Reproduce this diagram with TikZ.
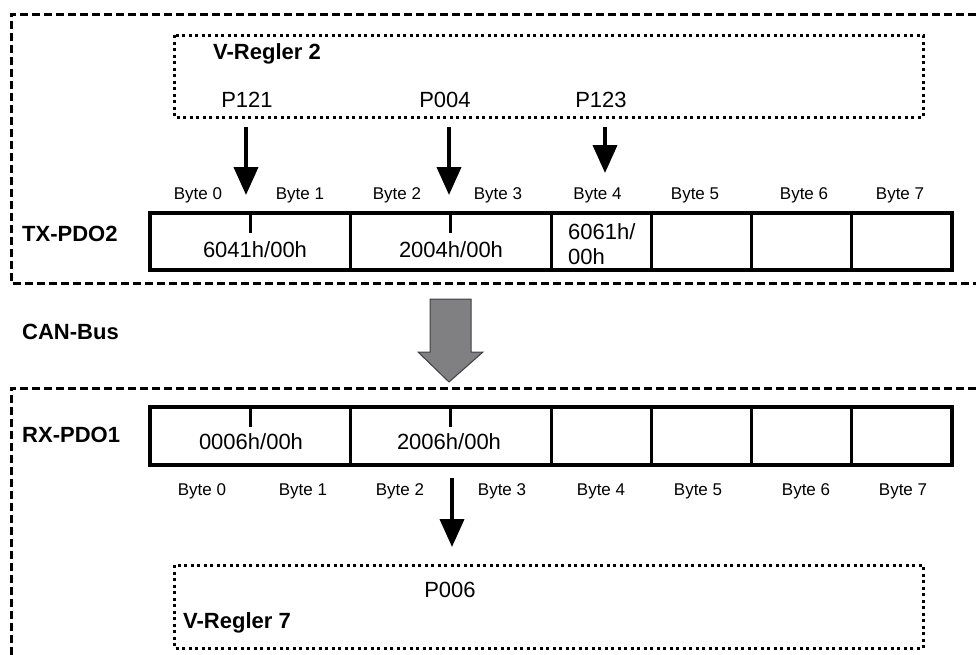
\documentclass[tikz,border=0pt]{standalone}
\usepackage{fontspec}
\setmainfont{Liberation Sans}
\usetikzlibrary{arrows.meta}
\begin{document}
\begin{tikzpicture}[x=1pt,y=-1pt,
  big/.style={font=\fontsize{22}{24}\selectfont, inner sep=0pt, anchor=base},
  bigw/.style={font=\fontsize{22}{24}\selectfont, inner sep=0pt, anchor=base west},
  bigb/.style={font=\fontsize{22}{24}\selectfont\bfseries, inner sep=0pt, anchor=base west},
  bytelbl/.style={font=\fontsize{17}{18}\selectfont, inner sep=0pt, anchor=base},
  outerbox/.style={line width=3pt, dash pattern=on 8pt off 4pt},
  innerbox/.style={line width=3pt, dash pattern=on 3pt off 3.5pt},
  tbl/.style={line width=3.5pt},
  divl/.style={line width=3pt},
  arr/.style={line width=4pt, -{Triangle[width=24pt,length=28pt]}},
]
\useasboundingbox (0,0) rectangle (976,654);

% outer dashed frames
\draw[outerbox] (976,14) -- (11,14) -- (11,283) -- (976,283);
\draw[outerbox] (976,388) -- (11,388) -- (11,660);

% inner dotted boxes
\draw[innerbox] (174,35) rectangle (923,117);
\draw[innerbox] (174,565) rectangle (923,648);

% labels upper
\node[bigb] (vr2) at (213,59) {V-Regler 2};
\node[big] (p121) at (247,107) {P121};
\node[big] (p004) at (445,107) {P004};
\node[big] (p123) at (601,107) {P123};
\node[bigb] (tx) at (22,241) {TX-PDO2};
\node[bigb] (can) at (22,339) {CAN-Bus};
\node[bigb] (rx) at (22,442) {RX-PDO1};
\node[big] (p006) at (450,597) {P006};
\node[bigb] (vr7) at (183,628) {V-Regler 7};

% top byte labels
\foreach \x/\n in {198/0,300/1,397/2,498/3,597.5/4,695/5,804/6,900/7}
  \node[bytelbl] (tb\n) at (\x,199) {Byte \n};
% bottom byte labels
\foreach \x/\n in {202/0,303/1,400/2,502/3,601/4,698/5,806/6,903/7}
  \node[bytelbl] (bb\n) at (\x,495) {Byte \n};

% TX table
\draw[tbl] (150,213) rectangle (952,270);
\foreach \x in {350,551,651,751,851} \draw[divl] (\x,213) -- (\x,270);
\draw[divl] (250,213) -- (250,233);
\draw[divl] (450,213) -- (450,233);
\node[big] (c1) at (255,257) {6041h/00h};
\node[big] (c2) at (451,257) {2004h/00h};
\node[bigw] (c3a) at (568,239) {6061h/};
\node[bigw] (c3b) at (568,264) {00h};

% RX table
\draw[tbl] (150,407) rectangle (952,465);
\foreach \x in {350,551,651,751,851} \draw[divl] (\x,407) -- (\x,465);
\draw[divl] (250,407) -- (250,427);
\draw[divl] (450,407) -- (450,427);
\node[big] (r1) at (251,449) {0006h/00h};
\node[big] (r2) at (449,449) {2006h/00h};

% arrows
\coordinate (a1s) at (246,127); \coordinate (a1e) at (246,195);
\coordinate (a2s) at (449,127); \coordinate (a2e) at (449,195);
\coordinate (a3s) at (605,127); \coordinate (a3e) at (605,173);
\coordinate (a4s) at (452,478); \coordinate (a4e) at (452,547);
\draw[arr] (a1s) -- (a1e);
\draw[arr] (a2s) -- (a2e);
\draw[arr] (a3s) -- (a3e);
\draw[arr] (a4s) -- (a4e);

% CAN-Bus block arrow
\draw[fill={rgb,255:red,128;green,128;blue,130}, draw=black!75, line width=1pt]
  (430,299) -- (471,299) -- (471,352) -- (483,352) -- (449,382) -- (418,352) -- (430,352) -- cycle;
\end{tikzpicture}
\end{document}
